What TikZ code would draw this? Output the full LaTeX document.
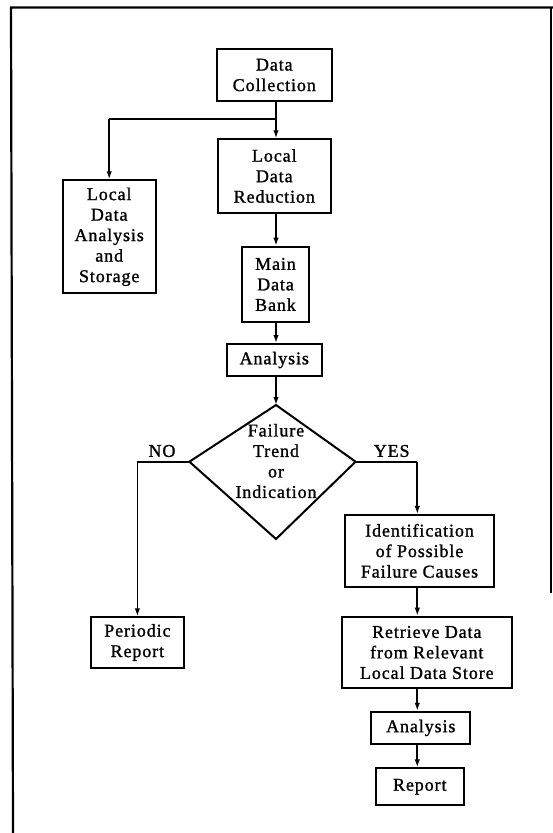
\documentclass[tikz,border=0pt]{standalone}
\usepackage{fontspec}
\setmainfont{Liberation Serif}[LetterSpace=5,FakeBold=1.2]
\usetikzlibrary{arrows.meta}
\tikzset{
  box/.style={draw, line width=2pt, inner sep=0pt, align=center, font=\fontsize{18}{20.5}\selectfont},
  lbl/.style={inner sep=0pt, font=\fontsize{18}{20.5}\selectfont},
  arr/.style={line width=1.8pt, -{Latex[length=8pt,width=5.5pt]}},
  conn/.style={line width=1.8pt},
  frame/.style={line width=2.2pt}
}
\begin{document}
\begin{tikzpicture}[x=1pt,y=-1pt]
\useasboundingbox (0,0) rectangle (553,833);
% frame
\draw[frame] (553,7.5) -- (11,7.5) -- (13,833);
\draw[frame] (551,7.5) -- (551,593);
% column coordinates
\coordinate (mc) at (276,0);
\coordinate (rc) at (417.3,0);
% boxes
\node[box, minimum width=114.6pt, minimum height=51.4pt] (dc) at (274.3,75) {Data\\Collection};
\node[box, minimum width=113.4pt, minimum height=73.4pt] (ldr) at (274.3,176) {Local\\Data\\Reduction};
\node[box, minimum width=92.8pt, minimum height=113pt] (ldas) at (109.2,236.8) {Local\\Data\\Analysis\\and\\Storage};
\node[box, minimum width=67pt, minimum height=75.6pt] (mdb) at (275.5,284.5) {Main\\Data\\Bank};
\node[box, minimum width=95.5pt, minimum height=32pt] (an1) at (274.3,360) {Analysis};
% decision diamond
\coordinate (dt) at (276,405);
\coordinate (dl) at (189.4,461.7);
\coordinate (db) at (276,539);
\coordinate (dr) at (355.6,461.7);
\draw[line width=2pt, line join=miter] (dt) -- (dl) -- (db) -- (dr) -- cycle;
\node[lbl, align=center] (dtext) at (276,461) {Failure\\Trend\\or\\Indication};
\node[box, minimum width=149pt, minimum height=71.7pt] (id) at (419.5,550.8) {Identification\\of Possible\\Failure Causes};
\node[box, minimum width=92.8pt, minimum height=50.4pt] (pr) at (137.4,642.5) {Periodic\\Report};
\node[box, minimum width=169.5pt, minimum height=71.6pt] (rd) at (426.8,652.5) {Retrieve Data\\from Relevant\\Local Data Store};
\node[box, minimum width=98.8pt, minimum height=32.3pt] (an2) at (420.8,727.9) {Analysis};
\node[box, minimum width=88pt, minimum height=36.7pt] (rep) at (419.8,786.7) {Report};
% labels
\node[lbl] (no) at (162,451) {NO};
\node[lbl] (yes) at (391.7,451) {YES};
% connectors
\coordinate (j) at (276,119.3);
\draw[arr] (dc.south -| mc) -- (ldr.north -| mc);
\draw[conn] (j) -- (j -| ldas.north);
\draw[arr] (j -| ldas.north) -- (ldas.north);
\draw[arr] (ldr.south -| mc) -- (mdb.north -| mc);
\draw[arr] (mdb.south -| mc) -- (an1.north -| mc);
\draw[arr] (an1.south -| mc) -- (dt);
\draw[conn] (dl) -- (dl -| pr.north);
\draw[arr] (dl -| pr.north) -- (pr.north);
\draw[conn] (dr) -- (dr -| rc);
\draw[arr] (dr -| rc) -- (id.north -| rc);
\draw[arr] (id.south -| rc) -- (rd.north -| rc);
\draw[arr] (rd.south -| rc) -- (an2.north -| rc);
\draw[arr] (an2.south -| rc) -- (rep.north -| rc);
\end{tikzpicture}
\end{document}
